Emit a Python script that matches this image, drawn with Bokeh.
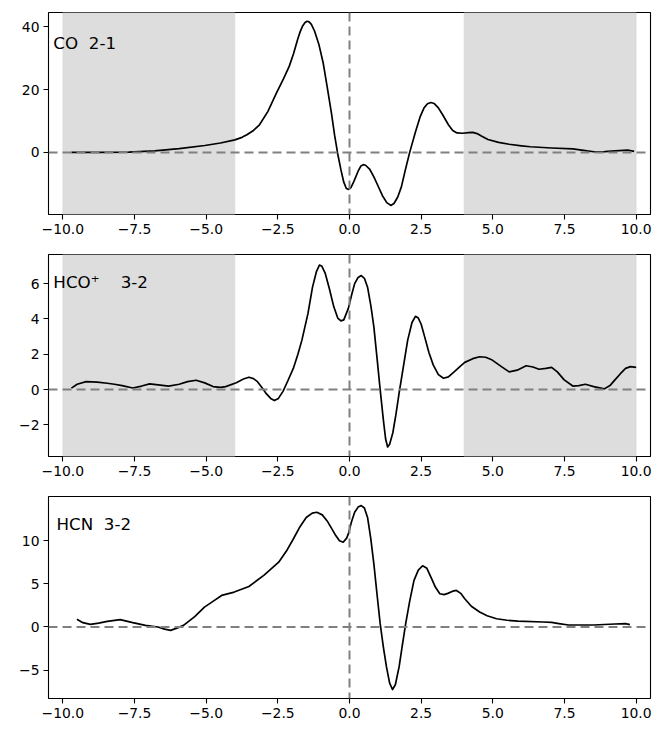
from bokeh.plotting import figure
from bokeh.layouts import column
from bokeh.models import Range1d, FixedTicker, Span, BoxAnnotation, Label
from bokeh.embed import file_html
from bokeh.resources import INLINE

# ---------------- data ----------------
co_v = [-9.7, -8.7, -7.7, -6.8, -5.94, -5.05, -4.5, -4.0, -3.75, -3.58, -3.35, -3.14, -2.85, -2.55,
        -2.3, -2.1, -1.95, -1.81, -1.72, -1.63, -1.55, -1.48, -1.41, -1.33, -1.22, -1.07, -0.92,
        -0.78, -0.63, -0.52, -0.41, -0.3, -0.2, -0.11, -0.03, 0.05, 0.15, 0.3, 0.4, 0.48, 0.56,
        0.7, 0.85, 1.0, 1.15, 1.3, 1.44, 1.55, 1.68, 1.81, 1.95, 2.1, 2.3, 2.47, 2.6, 2.72, 2.84,
        2.95, 3.1, 3.25, 3.45, 3.6, 3.75, 3.95, 4.15, 4.3, 4.45, 4.6, 4.83, 5.2, 5.57, 6.0, 6.31,
        7.05, 7.79, 8.1, 8.52, 8.9, 9.26, 9.7, 9.93]
co_t = [0, 0.02, 0.1, 0.5, 1.2, 2.2, 3.0, 4.0, 4.8, 5.6, 7.0, 8.8, 13.0, 18.9,
        23.5, 27.5, 31.5, 36, 38.5, 40.4, 41.4, 41.8, 41.6, 40.8, 38.7, 34.5, 28.6,
        21, 12.5, 5.5, -0.5, -5.5, -9.5, -11.5, -11.8, -11.2, -9.3, -6.0, -4.3, -3.9, -4.1,
        -5.3, -7.8, -10.8, -13.8, -16.0, -16.9, -16.3, -14.3, -11, -5.5, 0, 6.5, 11.5, 14.2, 15.5, 15.9,
        15.6, 14.2, 12.0, 8.8, 7.0, 6.2, 6.1, 6.3, 6.4, 6.0, 5.2, 4.1, 3.2, 2.6, 2.1, 1.8,
        1.4, 1.1, 0.7, 0.2, 0.25, 0.5, 0.7, 0.3]

hco_v = [-9.7, -9.5, -9.19, -8.8, -8.45, -8.2, -7.93, -7.56, -7.25, -6.97, -6.6, -6.31, -5.94,
         -5.65, -5.35, -5.05, -4.76, -4.5, -4.32, -3.95, -3.7, -3.51, -3.35, -3.21, -3.05, -2.92,
         -2.75, -2.62, -2.48, -2.32, -2.15, -1.96, -1.8, -1.66, -1.45, -1.29, -1.15, -1.05, -0.97,
         -0.85, -0.7, -0.55, -0.41, -0.3, -0.2, -0.04, 0.08, 0.18, 0.3, 0.41, 0.52, 0.63, 0.75,
         0.85, 0.96, 1.07, 1.18, 1.26, 1.33, 1.4, 1.51, 1.62, 1.73, 1.88, 2.03, 2.18, 2.3, 2.4,
         2.5, 2.62, 2.77, 2.92, 3.1, 3.28, 3.45, 3.65, 3.85, 4.02, 4.3, 4.54, 4.75, 4.98, 5.3,
         5.57, 5.85, 6.16, 6.4, 6.61, 6.85, 7.05, 7.25, 7.49, 7.79, 8.0, 8.23, 8.52, 8.89, 9.1,
         9.26, 9.45, 9.63, 9.8, 10.0]
hco_t = [0.08, 0.3, 0.45, 0.42, 0.36, 0.3, 0.22, 0.09, 0.2, 0.32, 0.25, 0.2, 0.3,
         0.45, 0.53, 0.38, 0.17, 0.13, 0.17, 0.39, 0.6, 0.7, 0.62, 0.45, 0.1, -0.2,
         -0.5, -0.62, -0.5, -0.1, 0.5, 1.2, 2.0, 2.8, 4.3, 5.8, 6.7, 7.05, 7.0,
         6.6, 5.7, 4.7, 4.05, 3.89, 3.95, 4.6, 5.4, 6.0, 6.35, 6.46, 6.3, 5.8, 4.7,
         3.55, 1.8, 0, -1.7, -2.8, -3.25, -3.1, -2.46, -1.4, -0.2, 1.3, 2.8, 3.8, 4.15, 4.05,
         3.7, 3.0, 2.1, 1.4, 0.85, 0.64, 0.72, 1.0, 1.3, 1.54, 1.75, 1.86, 1.83, 1.67, 1.3,
         1.0, 1.1, 1.35, 1.28, 1.15, 1.2, 1.26, 1.0, 0.55, 0.2, 0.22, 0.3, 0.17, 0.04, 0.25,
         0.55, 0.9, 1.2, 1.3, 1.26]

hcn_v = [-9.51, -9.3, -9.04, -8.75, -8.45, -8.0, -7.56, -7.12, -6.68, -6.45, -6.24, -6.0, -5.79,
         -5.4, -5.06, -4.75, -4.46, -4.02, -3.51, -2.99, -2.47, -2.2, -1.96, -1.75, -1.51, -1.3,
         -1.14, -0.95, -0.78, -0.62, -0.48, -0.35, -0.22, -0.1, -0.04, 0.07, 0.18, 0.3, 0.41,
         0.52, 0.63, 0.74, 0.85, 0.96, 1.07, 1.18, 1.29, 1.4, 1.5, 1.6, 1.73, 1.84, 1.96, 2.1,
         2.25, 2.4, 2.55, 2.7, 2.84, 3.0, 3.15, 3.3, 3.43, 3.6, 3.73, 3.88, 4.02, 4.25, 4.54,
         4.8, 5.13, 5.5, 5.87, 6.75, 7.05, 7.3, 7.64, 8.52, 9.26, 9.63, 9.78]
hcn_t = [0.89, 0.5, 0.31, 0.45, 0.66, 0.85, 0.5, 0.19, 0, -0.25, -0.39, -0.1, 0.19,
         1.2, 2.3, 3.0, 3.66, 4.05, 4.7, 5.98, 7.52, 8.8, 10.2, 11.5, 12.7, 13.2,
         13.3, 13.0, 12.3, 11.4, 10.6, 10.0, 9.83, 10.3, 10.8, 12.2, 13.3, 13.9, 14.08,
         13.8, 12.7, 10.3, 7.33, 3.8, 0.39, -2.3, -4.63, -6.5, -7.25, -6.7, -4.63, -2.2, 0.39, 3.0,
         5.4, 6.6, 7.1, 6.8, 5.78, 4.6, 3.85, 3.75, 3.9, 4.15, 4.24, 3.9, 3.28, 2.4, 1.74,
         1.3, 0.96, 0.78, 0.69, 0.58, 0.54, 0.4, 0.23, 0.23, 0.35, 0.39, 0.27]

x_ticks = [-10.0, -7.5, -5.0, -2.5, 0.0, 2.5, 5.0, 7.5, 10.0]
x_tick_labels = ["\u221210.0", "\u22127.5", "\u22125.0", "\u22122.5", "0.0", "2.5", "5.0", "7.5", "10.0"]

co_yticks = [0, 20, 40]
co_ylabels = ["0", "20", "40"]
hco_yticks = [-2, 0, 2, 4, 6]
hco_ylabels = ["\u22122", "0", "2", "4", "6"]
hcn_yticks = [-5, 0, 5, 10]
hcn_ylabels = ["\u22125", "0", "5", "10"]

NB = "\u00a0"
co_name = "CO" + NB * 2 + "2-1"
hco_name = "HCO\u207a" + NB * 4 + "3-2"
hcn_name = "HCN" + NB * 2 + "3-2"

shade_windows = [(-10, -4), (4, 10)]

FONT = "DejaVu Sans"
TICK_SIZE = "13.9px"


def make_panel(v, t, yr, yticks, ylabels, name, name_xy, shaded, top_pad):
    p = figure(width=657, height=236 + top_pad, output_backend="svg", toolbar_location=None,
               x_range=Range1d(-10.5, 10.5), y_range=Range1d(*yr),
               min_border_left=48, min_border_right=7, min_border_top=top_pad,
               min_border_bottom=34)
    p.xgrid.visible = False
    p.ygrid.visible = False
    p.outline_line_color = "black"
    p.outline_line_width = 1.1
    p.background_fill_color = "white"
    p.border_fill_color = "white"

    if shaded:
        for (a, b) in shade_windows:
            p.add_layout(BoxAnnotation(left=a, right=b, fill_color="#dddddd", fill_alpha=1.0,
                                       line_color="#cfcfcf", line_width=1.5, level="underlay"))

    p.line(v, t, line_color="black", line_width=1.7, line_join="round")

    p.add_layout(Span(location=0, dimension="width", line_color="#808080",
                      line_width=2, line_dash="9 5"))
    p.add_layout(Span(location=0, dimension="height", line_color="#808080",
                      line_width=2, line_dash="9 5"))

    p.add_layout(Label(x=name_xy[0], y=name_xy[1], text=name, text_font=FONT,
                       text_font_size="16.7px", text_color="black",
                       text_baseline="alphabetic", text_align="left"))

    for ax in (p.xaxis[0], p.yaxis[0]):
        ax.axis_line_color = None
        ax.major_tick_in = 0
        ax.major_tick_out = 5
        ax.major_tick_line_color = "black"
        ax.major_tick_line_width = 1.1
        ax.minor_tick_line_color = None
        ax.major_label_text_font = FONT
        ax.major_label_text_font_size = TICK_SIZE
        ax.major_label_text_color = "black"
        ax.major_label_standoff = 4

    p.xaxis[0].ticker = FixedTicker(ticks=x_ticks)
    p.xaxis[0].major_label_overrides = {tk: lb for tk, lb in zip(x_ticks, x_tick_labels)}
    p.yaxis[0].ticker = FixedTicker(ticks=yticks)
    p.yaxis[0].major_label_overrides = {tk: lb for tk, lb in zip(yticks, ylabels)}
    return p


p1 = make_panel(co_v, co_t, (-19.8, 44.6), co_yticks, co_ylabels, co_name, (-10.33, 35.0), True, 12)
p2 = make_panel(hco_v, hco_t, (-3.79, 7.65), hco_yticks, hco_ylabels, hco_name, (-10.33, 6.12), True, 6)
p3 = make_panel(hcn_v, hcn_t, (-8.29, 15.13), hcn_yticks, hcn_ylabels, hcn_name, (-10.22, 11.9), False, 6)

layout = column(p1, p2, p3, spacing=0)

open("out.html", "w").write(file_html(layout, INLINE))
